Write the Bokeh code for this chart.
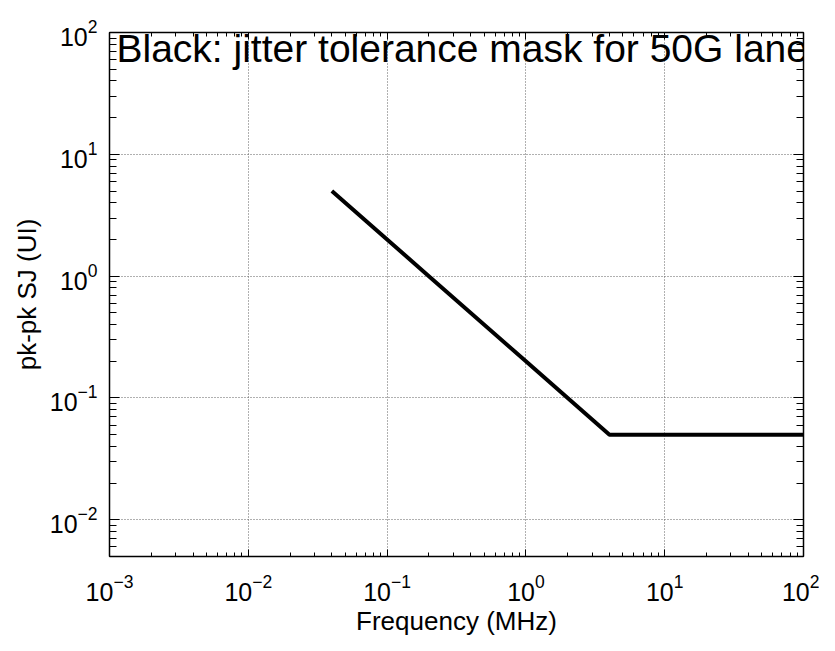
import math
from bokeh.plotting import figure
from bokeh.models import (Range1d, LogAxis, FixedTicker, Label, CustomJSTickFormatter)
from bokeh.embed import file_html
from bokeh.resources import INLINE

# ---- data ----
freq_mhz = [0.04, 0.1, 0.2, 1.0, 3.0, 4.0, 100.0]
sj_ui = [5.0, 2.0, 1.0, 0.2, 0.0667, 0.05, 0.05]

x_ticks = [1e-3, 1e-2, 1e-1, 1e0, 1e1, 1e2]
y_ticks = [1e-2, 1e-1, 1e0, 1e1, 1e2]

title_text = "Black: jitter tolerance mask for 50G lane"
x_label = "Frequency (MHz)"
y_label = "pk-pk SJ (UI)"

X_MIN, X_MAX = 1e-3, 1e2
Y_MIN, Y_MAX = 0.005, 100.0

# ---- layout (canvas pixels) ----
FL, FT, FW, FH = 109, 32, 694, 524
W, H = 819, 635
FONT = "Liberation Sans"

minor_x = [m * 10 ** d for d in range(-3, 2) for m in range(2, 10)]
minor_y = [m * 10 ** d for d in range(-3, 2) for m in range(2, 10)
           if Y_MIN <= m * 10 ** d <= Y_MAX]

p = figure(x_axis_type="log", y_axis_type="log",
           x_range=Range1d(X_MIN, X_MAX), y_range=Range1d(Y_MIN, Y_MAX),
           frame_width=FW, frame_height=FH,
           min_border_left=FL, min_border_top=FT,
           min_border_right=W - FL - FW, min_border_bottom=H - FT - FH,
           output_backend="svg", toolbar_location=None,
           background_fill_color="white", border_fill_color="white")
p.outline_line_color = "black"
p.outline_line_width = 1

top_ax = LogAxis()
right_ax = LogAxis()
p.add_layout(top_ax, "above")
p.add_layout(right_ax, "right")

blank = CustomJSTickFormatter(code="return ''")
for ax in p.xaxis:
    ax.ticker = FixedTicker(ticks=x_ticks, minor_ticks=minor_x)
    ax.major_tick_in, ax.minor_tick_in = 7, 4
for ax in p.yaxis:
    ax.ticker = FixedTicker(ticks=y_ticks, minor_ticks=minor_y)
    ax.major_tick_in, ax.minor_tick_in = 10, 7
for ax in list(p.xaxis) + list(p.yaxis):
    ax.major_tick_out = 0
    ax.minor_tick_out = 0
    ax.axis_line_color = "black"
    ax.axis_line_width = 1.5
    ax.major_tick_line_color = "black"
    ax.minor_tick_line_color = "black"
    ax.major_label_text_font = FONT
    ax.major_label_text_font_size = "25px"
    ax.major_label_text_color = "black"
    ax.axis_label_text_font = FONT
    ax.axis_label_text_font_size = "26px"
    ax.axis_label_text_font_style = "normal"
    ax.axis_label_text_color = "black"

for ax in (top_ax, right_ax):
    ax.formatter = blank
    ax.major_label_standoff = 0

bottom_ax = p.below[0]
left_ax = p.left[0]
bottom_ax.major_label_standoff = 17
bottom_ax.axis_label = x_label
bottom_ax.axis_label_standoff = 2
left_ax.major_label_standoff = 12
left_ax.axis_label = y_label
left_ax.axis_label_standoff = 5

p.xgrid.ticker = FixedTicker(ticks=x_ticks)
p.ygrid.ticker = FixedTicker(ticks=y_ticks)
for g in (p.xgrid, p.ygrid):
    g.grid_line_color = "#606060"
    g.grid_line_dash = "1 2"
    g.grid_line_width = 1

p.line(freq_mhz, sj_ui, line_color="black", line_width=4)

# ---- in-plot title text (screen units relative to frame) ----
p.add_layout(Label(x=7, y=FH - 16, x_units="screen", y_units="screen",
                   text=title_text, text_align="left",
                   text_baseline="alphabetic", text_font=FONT,
                   text_font_size="39px", text_color="black"))

open("out.html", "w").write(file_html(p, INLINE))
